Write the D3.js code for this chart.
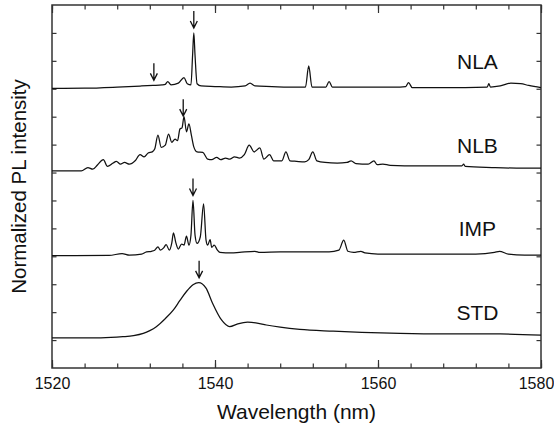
<!DOCTYPE html>
<html>
<head>
<meta charset="utf-8">
<script src="https://cdn.jsdelivr.net/npm/d3@7"></script>
<style>
  body { margin: 0; background: #fff; }
  svg { display: block; font-family: Arial, "Liberation Sans", sans-serif; }
</style>
</head>
<body>
<div id="chart"></div>
<script>
// Stacked PL spectra (normalized to peak = 1), one offset per sample.
const WIDTH = 554;
const HEIGHT = 426;
const margin = { top: 5, right: 13, bottom: 58, left: 52 };

const seriesNames = ["NLA", "NLB", "IMP", "STD"];
const seriesOffsets = [5, 3.5, 2, 0.5];
const arrowWavelengths = [[1532.5, 1537.4], [1536.1], [1537.3], [1538.05]];

const xMajorTicks = [1520, 1540, 1560, 1580];
const xMinorTicks = d3.range(1520, 1581, 4);
const yTicks = d3.range(0.5, 6.5, 0.5);

// [wavelength (nm), normalized intensity]
const nlaSpectrum = [
    [1520, 0.005], [1524, 0.01], [1528, 0.03], [1531, 0.05], [1532.4, 0.06],
    [1533.5, 0.07], [1533.9, 0.08], [1534.2, 0.13], [1534.6, 0.07], [1535.5, 0.10],
    [1536.2, 0.20], [1536.6, 0.09], [1537.05, 0.07], [1537.25, 0.6], [1537.4, 1.0],
    [1537.55, 0.6], [1537.8, 0.09], [1538.3, 0.05], [1540, 0.04], [1542, 0.03],
    [1543.7, 0.05], [1544.3, 0.10], [1544.9, 0.05], [1547, 0.04], [1549, 0.03],
    [1551.1, 0.03], [1551.5, 0.41], [1551.9, 0.03], [1553.6, 0.03], [1554.0, 0.13],
    [1554.4, 0.03], [1558, 0.03], [1562, 0.03], [1563.4, 0.04], [1563.75, 0.11],
    [1564.2, 0.02], [1568, 0.02], [1573.4, 0.03], [1573.6, 0.09], [1573.8, 0.03],
    [1575, 0.05], [1576.3, 0.10], [1577.5, 0.09], [1578.5, 0.06], [1580, 0.02]
];

const nlbSpectrum = [
    [1520, 0.03], [1523.6, 0.03], [1524.4, 0.09], [1525.0, 0.06], [1525.6, 0.14],
    [1526.3, 0.23], [1526.8, 0.11], [1527.5, 0.17], [1527.9, 0.20], [1528.4, 0.15],
    [1528.9, 0.18], [1529.5, 0.15], [1530.2, 0.21], [1530.8, 0.32], [1531.3, 0.28],
    [1531.8, 0.35], [1532.3, 0.37], [1532.6, 0.42], [1533.0, 0.67], [1533.4, 0.45],
    [1533.9, 0.49], [1534.3, 0.69], [1534.7, 0.54], [1535.1, 0.60], [1535.4, 0.57],
    [1535.7, 0.78], [1535.95, 0.80], [1536.2, 1.0], [1536.5, 0.73], [1536.8, 0.87],
    [1537.1, 0.67], [1537.4, 0.46], [1537.8, 0.37], [1538.5, 0.36], [1539.1, 0.24],
    [1539.6, 0.23], [1540.2, 0.27], [1540.7, 0.23], [1541.3, 0.26], [1541.8, 0.24],
    [1542.4, 0.28], [1543.0, 0.26], [1543.6, 0.32], [1544.2, 0.49], [1544.8, 0.37],
    [1545.5, 0.44], [1546.0, 0.24], [1546.7, 0.32], [1547.2, 0.21], [1548.2, 0.21],
    [1548.7, 0.37], [1549.2, 0.21], [1550, 0.20], [1551, 0.19], [1551.5, 0.23],
    [1552.0, 0.37], [1552.5, 0.21], [1553.5, 0.18], [1555, 0.17], [1556.2, 0.18],
    [1556.7, 0.21], [1557.3, 0.16], [1558.8, 0.15], [1559.5, 0.21], [1559.9, 0.14],
    [1560.6, 0.15], [1561.5, 0.13], [1565, 0.12], [1568, 0.12], [1570.3, 0.12],
    [1570.5, 0.15], [1570.7, 0.11], [1574, 0.09], [1577, 0.08], [1580, 0.08]
];

const impSpectrum = [
    [1520, 0.01], [1527, 0.015], [1528.6, 0.05], [1529.5, 0.02], [1531.0, 0.04],
    [1531.6, 0.08], [1532.2, 0.09], [1532.6, 0.11], [1533.0, 0.17], [1533.3, 0.11],
    [1533.7, 0.15], [1534.0, 0.21], [1534.4, 0.11], [1534.7, 0.24], [1534.9, 0.42],
    [1535.2, 0.24], [1535.5, 0.13], [1535.9, 0.22], [1536.2, 0.20], [1536.5, 0.36],
    [1536.8, 0.20], [1537.05, 0.38], [1537.3, 1.0], [1537.55, 0.38], [1537.8, 0.23],
    [1538.2, 0.35], [1538.6, 0.94], [1538.9, 0.29], [1539.1, 0.20], [1539.4, 0.30],
    [1539.6, 0.16], [1539.9, 0.20], [1540.3, 0.11], [1540.6, 0.07], [1542, 0.06],
    [1543, 0.07], [1544.9, 0.09], [1545.5, 0.07], [1548, 0.08], [1551, 0.08],
    [1554, 0.08], [1555.2, 0.11], [1555.8, 0.29], [1556.3, 0.09], [1557.0, 0.07],
    [1557.9, 0.09], [1558.4, 0.06], [1560, 0.04], [1566, 0.04], [1572, 0.04],
    [1574.3, 0.07], [1574.9, 0.09], [1576, 0.04], [1578, 0.02], [1580, 0.02]
];

const stdSpectrum = [
    [1520, 0.04], [1526, 0.04], [1528.7, 0.06], [1530, 0.08], [1531.2, 0.12],
    [1532.0, 0.17], [1532.8, 0.24], [1533.8, 0.37], [1534.9, 0.54], [1535.7, 0.71],
    [1536.5, 0.87], [1537.3, 0.99], [1538.0, 1.03], [1538.9, 0.93], [1539.7, 0.66],
    [1540.8, 0.36], [1541.8, 0.24], [1542.8, 0.29], [1544.0, 0.32], [1545.0, 0.31],
    [1546.3, 0.27], [1548, 0.23], [1550.4, 0.19], [1554.5, 0.16], [1558, 0.14],
    [1562.7, 0.12], [1568, 0.11], [1575, 0.11], [1580, 0.09]
];

const spectra = [nlaSpectrum, nlbSpectrum, impSpectrum, stdSpectrum];

const drawChart = () => {
    const svg = d3.select("#chart")
        .append("svg")
        .attr("width", WIDTH)
        .attr("height", HEIGHT);

    const x = d3.scaleLinear()
        .domain([1520, 1580])
        .range([margin.left, WIDTH - margin.right]);

    const y = d3.scaleLinear()
        .domain([0, 6.5])
        .range([HEIGHT - margin.bottom, margin.top]);

    const axisColor = "#333";

    // Inward ticks on all four sides, labels only on the bottom.
    const bottomMinor = svg.append("g")
        .attr("transform", `translate(0, ${y(0)})`)
        .call(d3.axisBottom(x).tickValues(xMinorTicks).tickSize(-4.5).tickFormat(""));
    const bottomMajor = svg.append("g")
        .attr("transform", `translate(0, ${y(0)})`)
        .call(d3.axisBottom(x).tickValues(xMajorTicks).tickSize(-8).tickPadding(10).tickFormat(d3.format("d")));
    const topMinor = svg.append("g")
        .attr("transform", `translate(0, ${y(6.5)})`)
        .call(d3.axisTop(x).tickValues(xMinorTicks).tickSize(-4.5).tickFormat(""));
    const topMajor = svg.append("g")
        .attr("transform", `translate(0, ${y(6.5)})`)
        .call(d3.axisTop(x).tickValues(xMajorTicks).tickSize(-8).tickFormat(""));
    const leftAxis = svg.append("g")
        .attr("transform", `translate(${x(1520)}, 0)`)
        .call(d3.axisLeft(y).tickValues(yTicks).tickSize(-4.5).tickFormat(""));
    const rightAxis = svg.append("g")
        .attr("transform", `translate(${x(1580)}, 0)`)
        .call(d3.axisRight(y).tickValues(yTicks).tickSize(-4.5).tickFormat(""));

    [bottomMinor, bottomMajor, topMinor, topMajor, leftAxis, rightAxis].forEach(g => {
        g.select(".domain").remove();
        g.selectAll("line").attr("stroke", axisColor).attr("stroke-width", 1.2);
    });

    // The last label sits against the window edge; pull it in so it stays whole.
    bottomMajor.selectAll("text")
        .style("font-size", "16px")
        .style("fill", "#111")
        .attr("dx", d => d === 1580 ? -5 : 0);

    svg.append("rect")
        .attr("x", x(1520))
        .attr("y", y(6.5))
        .attr("width", x(1580) - x(1520))
        .attr("height", y(0) - y(6.5))
        .attr("fill", "none")
        .attr("stroke", axisColor)
        .attr("stroke-width", 1.5);

    const line = offset => d3.line()
        .x(d => x(d[0]))
        .y(d => y(offset + d[1]))
        .curve(d3.curveMonotoneX);

    // Linear lookup of a spectrum value, used to seat the arrows.
    const valueAt = (data, w) => {
        const i = d3.bisector(d => d[0]).left(data, w);
        if (i <= 0) return data[0][1];
        if (i >= data.length) return data[data.length - 1][1];
        const a = data[i - 1], b = data[i];
        return a[1] + (b[1] - a[1]) * (w - a[0]) / (b[0] - a[0]);
    };

    spectra.forEach((data, i) => {
        const offset = seriesOffsets[i];

        svg.append("path")
            .datum(data)
            .attr("d", line(offset))
            .attr("fill", "none")
            .attr("stroke", "#111")
            .attr("stroke-width", 1.25)
            .attr("stroke-linejoin", "round");

        svg.append("text")
            .attr("x", x(1572.2))
            .attr("y", y(offset) - 20)
            .attr("text-anchor", "middle")
            .style("font-size", "21px")
            .style("fill", "#111")
            .text(seriesNames[i]);

        arrowWavelengths[i].forEach(w => {
            const ax = x(w);
            const tip = y(offset + valueAt(data, w)) - 5;
            svg.append("path")
                .attr("d", `M${ax},${tip - 17}L${ax},${tip}M${ax - 3.5},${tip - 7}L${ax},${tip}L${ax + 3.5},${tip - 7}`)
                .attr("fill", "none")
                .attr("stroke", "#111")
                .attr("stroke-width", 1.3);
        });
    });

    svg.append("text")
        .attr("x", (x(1520) + x(1580)) / 2)
        .attr("y", 419)
        .attr("text-anchor", "middle")
        .style("font-size", "21px")
        .style("fill", "#111")
        .text("Wavelength (nm)");

    svg.append("text")
        .attr("transform", `translate(26, ${(y(0) + y(6.5)) / 2}) rotate(-90)`)
        .attr("text-anchor", "middle")
        .style("font-size", "20.5px")
        .style("fill", "#111")
        .text("Normalized PL intensity");
};

drawChart();
</script>
</body>
</html>
